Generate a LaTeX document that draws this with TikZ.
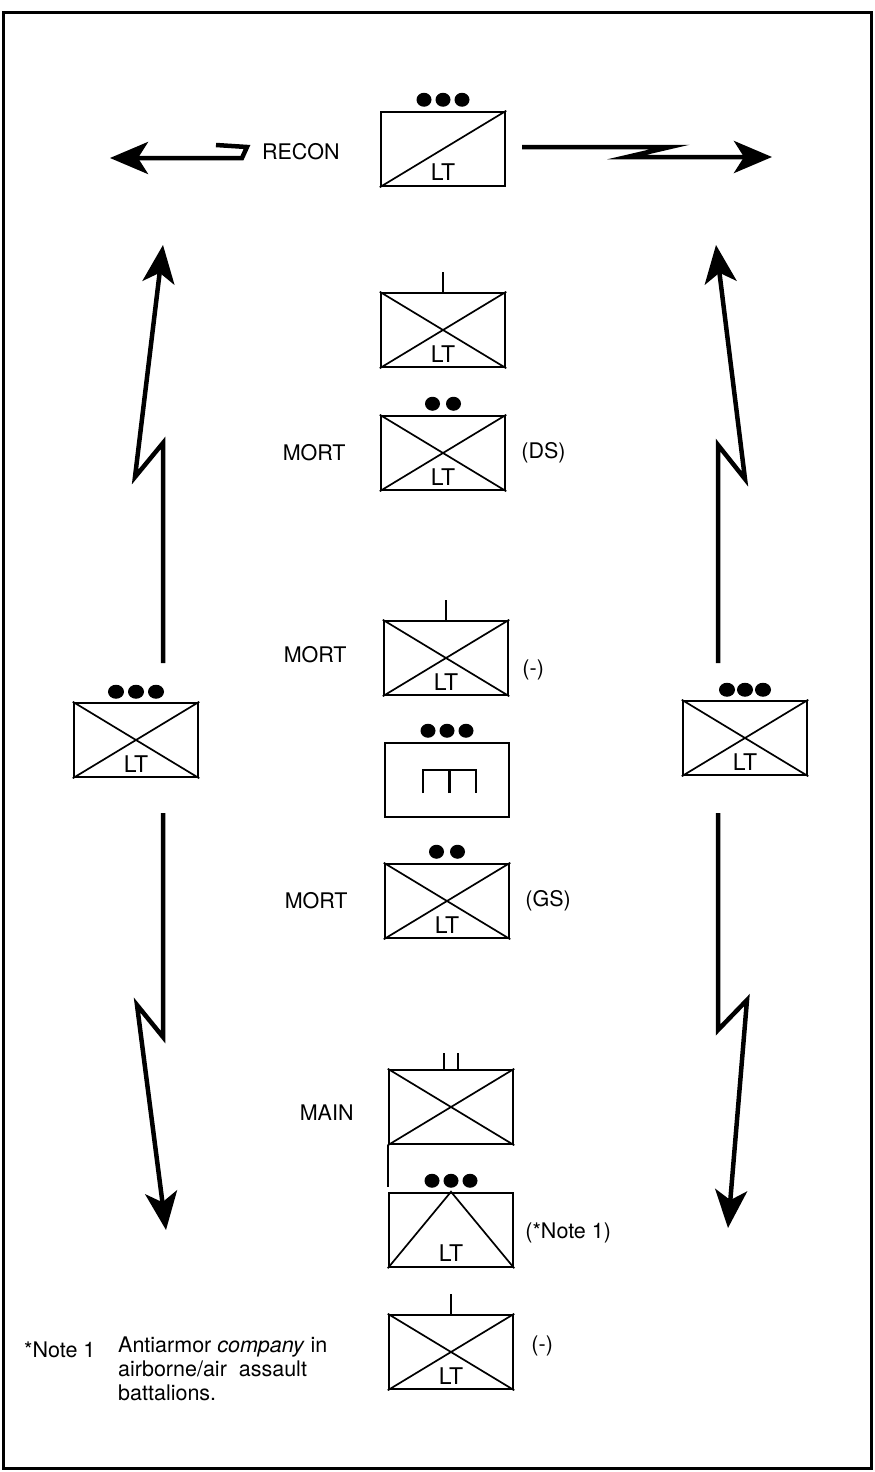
\documentclass[tikz,border=0pt]{standalone}
\usepackage{fontspec}
\setmainfont{TeX Gyre Heros}
\usetikzlibrary{positioning,arrows.meta}
\begin{document}
\begin{tikzpicture}[x=1pt,y=-1pt,
    unit/.style={draw,line width=2.5pt,minimum width=124pt,minimum height=74pt,inner sep=0pt},
    cross/.style={line width=1.7pt},
    lbl/.style={font=\fontsize{21.5}{24}\selectfont,inner sep=0pt},
    lt/.style={font=\fontsize{23}{26}\selectfont,inner sep=0pt,anchor=base},
    bolt/.style={line width=4.5pt,line join=miter,-{Stealth[length=38pt,width=32pt,inset=10pt]}},
    dot/.style={fill=black}]
    \useasboundingbox (0,0) rectangle (875,1472);
    \draw[line width=3pt] (3,13) rectangle (871,1468);
    % centre column
    \node(recon)[unit] at (443,149){};
    \draw[cross] (recon.south west) -- (recon.north east);
    \node[lt] at ([shift={(0,-7)}]recon.south){LT};
    \foreach \dx in {-19,0,19} \fill[dot] ([shift={(\dx,-11)}]recon.north) ellipse [x radius=7.5pt,y radius=7pt];
    \node(reconl)[lbl,left=40pt of recon,yshift=-3pt]{RECON};

    \node(co)[unit] at (443,330){};
    \draw[cross] (co.south west) -- (co.north east);
    \draw[cross] (co.north west) -- (co.south east);
    \draw[cross] (co.north) -- ++(0,-20);
    \node[lt] at ([shift={(0,-6)}]co.south){LT};

    \node(mortds)[unit] at (443,453){};
    \draw[cross] (mortds.south west) -- (mortds.north east);
    \draw[cross] (mortds.north west) -- (mortds.south east);
    \node[lt] at ([shift={(0,-6)}]mortds.south){LT};
    \foreach \dx in {-10.5,10.5} \fill[dot] ([shift={(\dx,-11)}]mortds.north) ellipse [x radius=7.5pt,y radius=7pt];
    \node(mortdsl)[lbl,left=34pt of mortds]{MORT};
    \node(ds)[lbl,right=15pt of mortds]{(DS)};

    \node(mortm)[unit] at (446,658){};
    \draw[cross] (mortm.south west) -- (mortm.north east);
    \draw[cross] (mortm.north west) -- (mortm.south east);
    \draw[cross] (mortm.north) -- ++(0,-20);
    \node[lt] at ([shift={(0,-6)}]mortm.south){LT};
    \node(mortml)[lbl,left=36pt of mortm,yshift=3pt]{MORT};
    \node(minus1)[lbl,right=13pt of mortm,yshift=-12pt]{(-)};

    \node(trains)[unit] at (447,780){};
    \foreach \dx in {-19,0,19} \fill[dot] ([shift={(\dx,-11)}]trains.north) ellipse [x radius=7.5pt,y radius=7pt];
    \draw[line width=2.2pt] ([shift={(-24,13)}]trains.center) -- ++(0,-23) -- ++(53,0) -- ++(0,23);
    \draw[line width=2.2pt] ([shift={(2.5,13)}]trains.center) -- ++(0,-23);

    \node(mortgs)[unit] at (447,901){};
    \draw[cross] (mortgs.south west) -- (mortgs.north east);
    \draw[cross] (mortgs.north west) -- (mortgs.south east);
    \node[lt] at ([shift={(0,-6)}]mortgs.south){LT};
    \foreach \dx in {-10.5,10.5} \fill[dot] ([shift={(\dx,-11)}]mortgs.north) ellipse [x radius=7.5pt,y radius=7pt];
    \node(mortgsl)[lbl,left=36pt of mortgs]{MORT};
    \node(gs)[lbl,right=15pt of mortgs]{(GS)};

    \node(main)[unit] at (451,1107){};
    \draw[cross] (main.south west) -- (main.north east);
    \draw[cross] (main.north west) -- (main.south east);
    \draw[cross] ([shift={(-7,0)}]main.north) -- ++(0,-16);
    \draw[cross] ([shift={(7,0)}]main.north) -- ++(0,-16);
    \node(mainl)[lbl,left=34pt of main,yshift=-6pt]{MAIN};

    \node(atk)[unit] at (451,1230){};
    \draw[cross] (atk.south west) -- (atk.north) -- (atk.south east);
    \node[lt] at ([shift={(0,-7)}]atk.south){LT};
    \foreach \dx in {-19,0,19} \fill[dot] ([shift={(\dx,-11)}]atk.north) ellipse [x radius=7.5pt,y radius=7pt];
    \node(note)[lbl,right=11pt of atk,yshift=-3pt]{(*Note 1)};
    \draw[cross] (main.south west) -- ([shift={(0,-5)}]atk.north west);

    \node(plt)[unit] at (451,1352){};
    \draw[cross] (plt.south west) -- (plt.north east);
    \draw[cross] (plt.north west) -- (plt.south east);
    \draw[cross] (plt.north) -- ++(0,-20);
    \node[lt] at ([shift={(0,-6)}]plt.south){LT};
    \node(minus2)[lbl,right=17pt of plt,yshift=6pt]{(-)};

    % flank units
    \node(lbox)[unit] at (136,740){};
    \draw[cross] (lbox.south west) -- (lbox.north east);
    \draw[cross] (lbox.north west) -- (lbox.south east);
    \node[lt] at ([shift={(0,-6)}]lbox.south){LT};
    \foreach \dx in {-20,0,20} \fill[dot] ([shift={(\dx,-10)}]lbox.north) ellipse [x radius=8pt,y radius=7pt];

    \node(rbox)[unit] at (745,738){};
    \draw[cross] (rbox.south west) -- (rbox.north east);
    \draw[cross] (rbox.north west) -- (rbox.south east);
    \node[lt] at ([shift={(0,-6)}]rbox.south){LT};
    \foreach \dx in {-18,0,18} \fill[dot] ([shift={(\dx,-10)}]rbox.north) ellipse [x radius=8pt,y radius=7pt];

    % radio links
    \coordinate(rl) at (216,145);
    \coordinate(rltip) at (110,158);
    \coordinate(rr) at (522,147);
    \coordinate(rrtip) at (772,157);
    \draw[bolt] (rl) -- ++(31,2) -- ++(-5,11) -- (rltip);
    \draw[bolt] (rr) -- ++(148,0) -- ++(-43,10) -- (rrtip);

    \coordinate(lu) at (163,663);
    \coordinate(lutip) at (163,245);
    \coordinate(ld) at (163,813);
    \coordinate(ldtip) at (166,1230);
    \draw[bolt] (lu) -- ++(0,-220) -- ++(-28,34) -- (lutip);
    \draw[bolt] (ld) -- ++(0,224) -- ++(-26,-32) -- (ldtip);

    \coordinate(ru) at (718,663);
    \coordinate(rutip) at (716,245);
    \coordinate(rd) at (718,813);
    \coordinate(rdtip) at (728,1228);
    \draw[bolt] (ru) -- ++(0,-218) -- ++(27,34) -- (rutip);
    \draw[bolt] (rd) -- ++(0,217) -- ++(29,-30) -- (rdtip);

    % note
    \node(notel)[lbl,anchor=base west] at (24,1357){*Note 1};
    \node(notet)[lbl,anchor=north west,align=left] at (118,1337){Antiarmor \textit{company} in\\airborne/air~~assault\\battalions.};
\end{tikzpicture}
\end{document}
